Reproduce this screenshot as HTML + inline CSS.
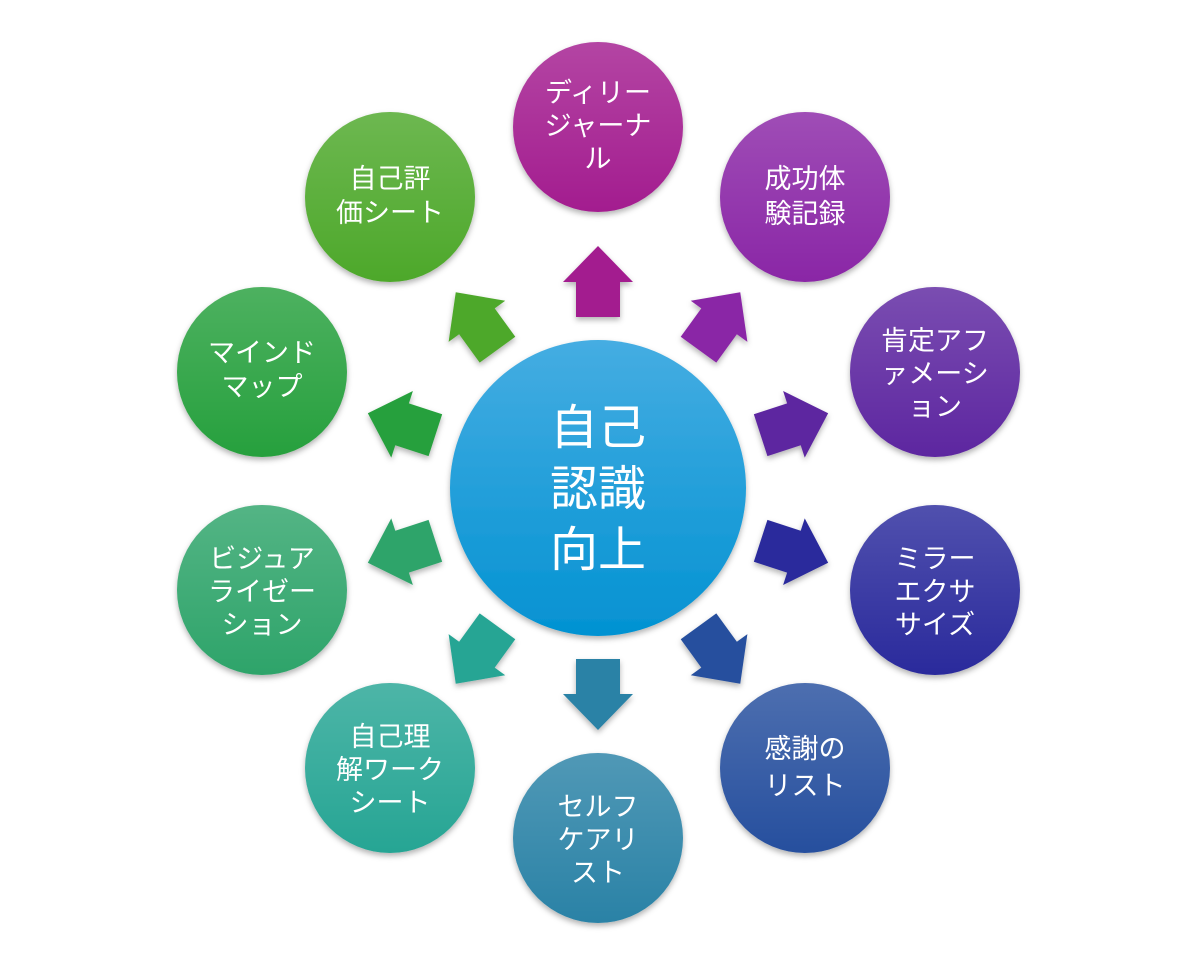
<!DOCTYPE html>
<html><head><meta charset="utf-8"><style>
body{margin:0;background:#fff}
svg text{font-family:"Liberation Sans","Noto Sans CJK JP",sans-serif;fill:#fff;text-anchor:middle}
</style></head><body>
<svg width="1200" height="956" viewBox="0 0 1200 956" xmlns="http://www.w3.org/2000/svg">
<defs>
<linearGradient id="gc" x1="0" y1="0" x2="0" y2="1"><stop offset="0" stop-color="#45ade2"/><stop offset="1" stop-color="#0392d2"/></linearGradient>
<linearGradient id="sh" x1="0" y1="0" x2="0" y2="1"><stop offset="0" stop-color="#fff" stop-opacity="0.18"/><stop offset="1" stop-color="#fff" stop-opacity="0"/></linearGradient>
<filter id="ds" x="-20%" y="-20%" width="140%" height="140%"><feDropShadow dx="0" dy="3" stdDeviation="3" flood-opacity="0.3"/></filter>
</defs>
<g transform="translate(598,488)">
<g filter="url(#ds)">
<g transform="rotate(0)"><path d="M0,-242 L35,-206 L22,-206 L22,-171 L-22,-171 L-22,-206 L-35,-206Z" fill="#a31f8f"/></g>
<g transform="rotate(36)"><path d="M0,-242 L35,-206 L22,-206 L22,-171 L-22,-171 L-22,-206 L-35,-206Z" fill="#8a26a6"/></g>
<g transform="rotate(72)"><path d="M0,-242 L35,-206 L22,-206 L22,-171 L-22,-171 L-22,-206 L-35,-206Z" fill="#5d26a0"/></g>
<g transform="rotate(108)"><path d="M0,-242 L35,-206 L22,-206 L22,-171 L-22,-171 L-22,-206 L-35,-206Z" fill="#2a2a9c"/></g>
<g transform="rotate(144)"><path d="M0,-242 L35,-206 L22,-206 L22,-171 L-22,-171 L-22,-206 L-35,-206Z" fill="#27509e"/></g>
<g transform="rotate(180)"><path d="M0,-242 L35,-206 L22,-206 L22,-171 L-22,-171 L-22,-206 L-35,-206Z" fill="#2a82a6"/></g>
<g transform="rotate(216)"><path d="M0,-242 L35,-206 L22,-206 L22,-171 L-22,-171 L-22,-206 L-35,-206Z" fill="#27a594"/></g>
<g transform="rotate(252)"><path d="M0,-242 L35,-206 L22,-206 L22,-171 L-22,-171 L-22,-206 L-35,-206Z" fill="#2fa46a"/></g>
<g transform="rotate(288)"><path d="M0,-242 L35,-206 L22,-206 L22,-171 L-22,-171 L-22,-206 L-35,-206Z" fill="#27a03c"/></g>
<g transform="rotate(324)"><path d="M0,-242 L35,-206 L22,-206 L22,-171 L-22,-171 L-22,-206 L-35,-206Z" fill="#4ea82a"/></g>
</g>
</g>
<g filter="url(#ds)">
<circle cx="598" cy="127" r="85" fill="#a31f8f"/>
<circle cx="805" cy="197" r="85" fill="#8a26a6"/>
<circle cx="935" cy="372" r="85" fill="#5d26a0"/>
<circle cx="935" cy="590" r="85" fill="#2a2a9c"/>
<circle cx="805" cy="768" r="85" fill="#27509e"/>
<circle cx="598" cy="838" r="85" fill="#2a82a6"/>
<circle cx="390" cy="768" r="85" fill="#27a594"/>
<circle cx="262" cy="590" r="85" fill="#2fa46a"/>
<circle cx="262" cy="372" r="85" fill="#27a03c"/>
<circle cx="390" cy="197" r="85" fill="#4ea82a"/>
<circle cx="598" cy="488" r="148" fill="url(#gc)"/>
</g>
<g>
<circle cx="598" cy="127" r="85" fill="url(#sh)"/><circle cx="805" cy="197" r="85" fill="url(#sh)"/><circle cx="935" cy="372" r="85" fill="url(#sh)"/><circle cx="935" cy="590" r="85" fill="url(#sh)"/><circle cx="805" cy="768" r="85" fill="url(#sh)"/><circle cx="598" cy="838" r="85" fill="url(#sh)"/><circle cx="390" cy="768" r="85" fill="url(#sh)"/><circle cx="262" cy="590" r="85" fill="url(#sh)"/><circle cx="262" cy="372" r="85" fill="url(#sh)"/><circle cx="390" cy="197" r="85" fill="url(#sh)"/>
</g>
<g font-size="48"><text x="598" y="444">自己</text><text x="598" y="505">認識</text><text x="598" y="566">向上</text></g>
<g font-size="27">
<text x="598" y="102">ディリー</text><text x="598" y="135">ジャーナ</text><text x="598" y="168">ル</text>
<text x="805" y="188">成功体</text><text x="805" y="223">験記録</text>
<text x="935" y="350">肯定アフ</text><text x="935" y="383">ァメーシ</text><text x="935" y="416">ョン</text>
<text x="935" y="568">ミラー</text><text x="935" y="601">エクサ</text><text x="935" y="634">サイズ</text>
<text x="805" y="758">感謝の</text><text x="805" y="795">リスト</text>
<text x="598" y="816">セルフ</text><text x="598" y="849">ケアリ</text><text x="598" y="882">スト</text>
<text x="390" y="746">自己理</text><text x="390" y="779">解ワーク</text><text x="390" y="812">シート</text>
<text x="262" y="568">ビジュア</text><text x="262" y="601">ライゼー</text><text x="262" y="634">ション</text>
<text x="262" y="362">マインド</text><text x="262" y="396">マップ</text>
<text x="390" y="188">自己評</text><text x="390" y="222">価シート</text>
</g>
</svg>
</body></html>
